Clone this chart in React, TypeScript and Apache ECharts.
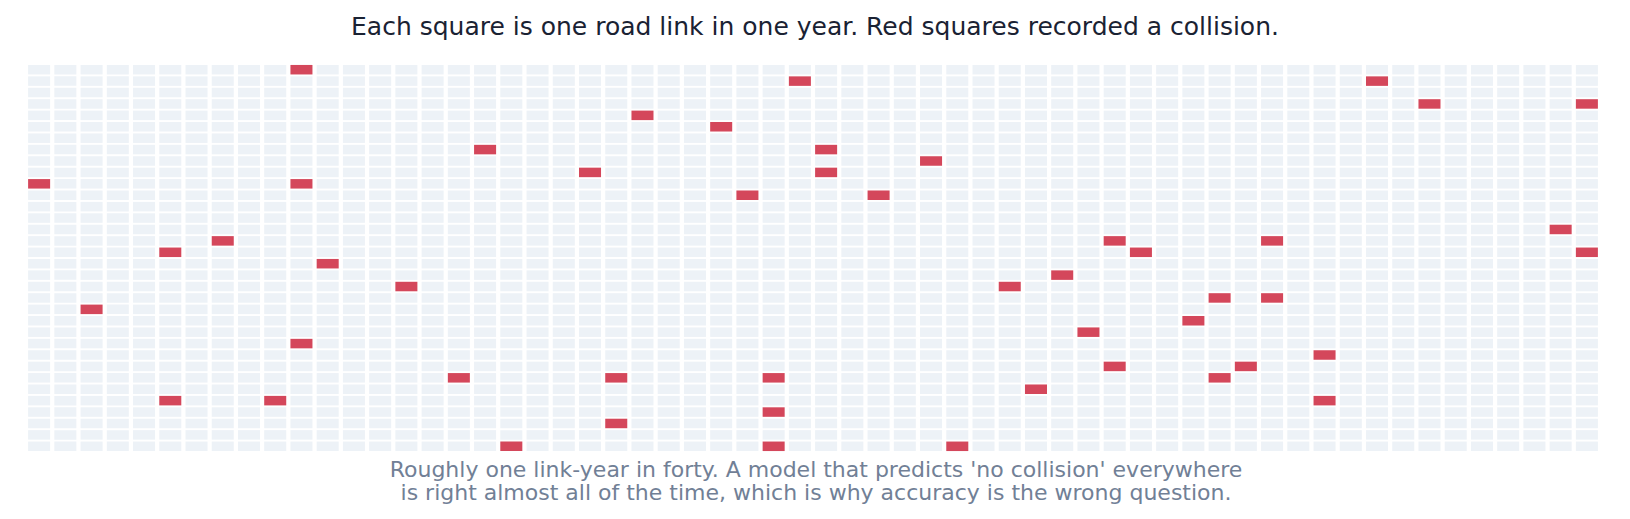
import React, { useEffect, useRef } from "react";
import * as echarts from "echarts";

// Grid dimensions: columns and rows of link-year cells
const COLUMN_COUNT = 60;
const ROW_COUNT = 34;

// Cells that recorded a collision (column index, row index from top)
const collisionCols = [
  10, 0, 10, 7, 5, 11, 14, 2, 10, 5, 9,
  29, 23, 26, 17, 30, 21, 30, 27, 16, 22, 28, 28, 22, 18, 28,
  34, 32, 41, 42, 39, 37, 45, 44, 40, 41, 45, 38, 35,
  51, 53, 59, 58, 47, 59, 47, 49, 46, 49,
];
const collisionRows = [
  0, 10, 10, 15, 16, 17, 19, 21, 24, 29, 29,
  1, 4, 5, 7, 7, 9, 9, 11, 27, 27, 27, 30, 31, 33, 33,
  8, 11, 15, 16, 18, 19, 20, 22, 23, 26, 27, 28, 33,
  1, 3, 3, 14, 15, 16, 20, 25, 26, 29,
];

const titleText = "Each square is one road link in one year. Red squares recorded a collision.";
const noteLines = [
  "Roughly one link-year in forty. A model that predicts 'no collision' everywhere",
  "is right almost all of the time, which is why accuracy is the wrong question.",
];

const EMPTY_COLOR = "#EDF2F7";
const HIT_COLOR = "#D4475B";

export default function App() {
  const ref = useRef<HTMLDivElement>(null);

  useEffect(() => {
    if (!ref.current) return;
    const chart = echarts.init(ref.current, undefined, { renderer: "svg" });

    const xCats = Array.from({ length: COLUMN_COUNT }, (_, i) => String(i));
    const yCats = Array.from({ length: ROW_COUNT }, (_, i) => String(i));

    const hits = new Set<string>();
    collisionCols.forEach((c, i) => hits.add(c + ":" + collisionRows[i]));

    const cells: number[][] = [];
    for (let r = 0; r < ROW_COUNT; r++) {
      for (let c = 0; c < COLUMN_COUNT; c++) {
        cells.push([c, r, hits.has(c + ":" + r) ? 1 : 0]);
      }
    }

    chart.setOption({
      animation: false,
      title: {
        text: titleText,
        left: "center",
        top: 9,
        textStyle: {
          fontFamily: "DejaVu Sans",
          fontSize: 25,
          fontWeight: "normal",
          color: "#1A2233",
        },
      },
      graphic: [
        {
          type: "text",
          x: 816,
          y: 458,
          style: {
            text: noteLines.join("\n"),
            fontFamily: "DejaVu Sans",
            fontSize: 22,
            lineHeight: 23,
            fill: "#718096",
            align: "center",
            verticalAlign: "top",
          },
        },
      ],
      grid: { left: 26, right: 30, top: 64, height: 388 },
      xAxis: {
        type: "category",
        data: xCats,
        show: false,
      },
      yAxis: {
        type: "category",
        data: yCats,
        inverse: true,
        show: false,
      },
      series: [
        {
          type: "custom",
          data: cells,
          encode: { x: 0, y: 1 },
          renderItem: (params: any, api: any) => {
            const center = api.coord([api.value(0), api.value(1)]);
            const size = api.size([1, 1]);
            const w = size[0] - 4.2;
            const h = size[1] - 1.9;
            return {
              type: "rect",
              shape: { x: center[0] - w / 2, y: center[1] - h / 2, width: w, height: h },
              style: { fill: api.value(2) ? HIT_COLOR : EMPTY_COLOR },
            };
          },
        },
      ],
    });

    return () => chart.dispose();
  }, []);

  return <div ref={ref} style={{ width: 1630, height: 519, margin: -8 }} />;
}
